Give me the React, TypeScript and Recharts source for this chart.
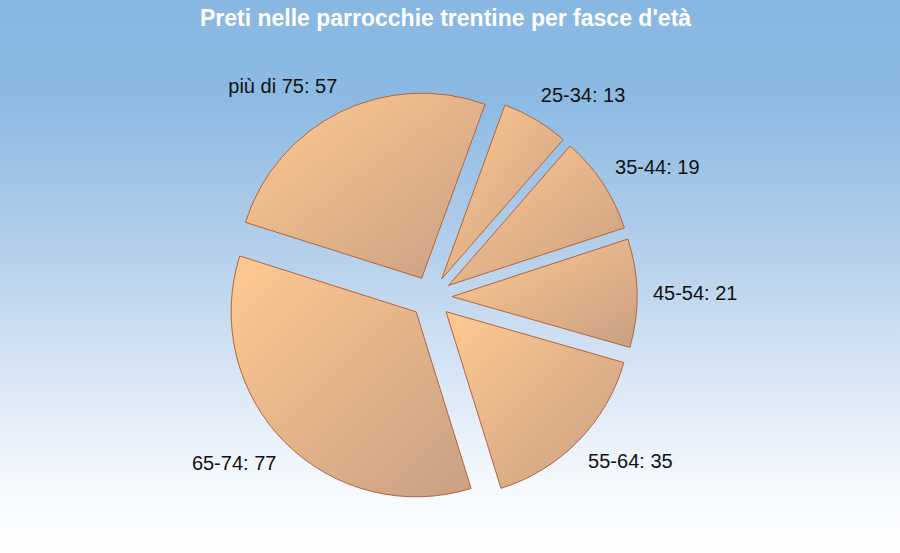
import React from 'react';
import { PieChart, Pie, Cell, Sector } from 'recharts';

const fasce = ['25-34', '35-44', '45-54', '55-64', '65-74', 'più di 75'];
const preti = [13, 19, 21, 35, 77, 57];

const data = fasce.map((name, i) => ({ name, value: preti[i] }));

const RAD = Math.PI / 180;
const EXPLODE = 21;

// sector pushed out along its mid angle
const ExplodedSector = (props: any) => {
    const { cx, cy, midAngle } = props;
    const dx = EXPLODE * Math.cos(-midAngle * RAD);
    const dy = EXPLODE * Math.sin(-midAngle * RAD);
    return <Sector {...props} cx={cx + dx} cy={cy + dy} />;
};

const renderLabel = (props: any) => {
    const { cx, cy, midAngle, name, value } = props;
    const cos = Math.cos(-midAngle * RAD);
    const sin = Math.sin(-midAngle * RAD);
    const x = cx + 228 * cos + (cos > 0 ? -6 : 7);
    const y = cy + 235 * sin;
    return (
        <text
            x={x}
            y={y}
            textAnchor={cos > 0 ? 'start' : 'end'}
            dominantBaseline="central"
            fill="#111"
            fontSize={20}
            fontFamily="'Liberation Sans', Arial, sans-serif"
        >
            {`${name}: ${value}`}
        </text>
    );
};

const App = () => {
    return (
        <div
            style={{
                position: 'relative',
                width: 900,
                height: 553,
                overflow: 'hidden',
                background:
                    'linear-gradient(to bottom, #88b8e2 0%, #8cbae3 18%, #b4cfeb 45%, #dce8f6 70%, #f5f9fd 88%, #ffffff 100%)',
            }}
        >
            <style>{'body{margin:0}'}</style>
            <div
                style={{
                    position: 'absolute',
                    top: 5,
                    left: 0,
                    width: 891,
                    textAlign: 'center',
                    color: '#fff',
                    fontWeight: 'bold',
                    fontSize: 23,
                    fontFamily: "'Liberation Sans', Arial, sans-serif",
                }}
            >
                Preti nelle parrocchie trentine per fasce d'età
            </div>
            <PieChart width={900} height={553} style={{ position: 'absolute', top: 0, left: 0 }}>
                <defs>
                    <linearGradient id="fetta" x1="0" y1="0" x2="1" y2="1">
                        <stop offset="0%" stopColor="#ffc991" />
                        <stop offset="100%" stopColor="#c9a083" />
                    </linearGradient>
                </defs>
                <Pie
                    data={data}
                    dataKey="value"
                    nameKey="name"
                    cx={426}
                    cy={292}
                    outerRadius={185}
                    startAngle={70}
                    endAngle={-290}
                    stroke="#b5643c"
                    strokeWidth={1}
                    shape={ExplodedSector}
                    label={renderLabel}
                    labelLine={false}
                    isAnimationActive={false}
                >
                    {data.map((d) => (
                        <Cell key={d.name} fill="url(#fetta)" />
                    ))}
                </Pie>
            </PieChart>
        </div>
    );
};

export default App;
